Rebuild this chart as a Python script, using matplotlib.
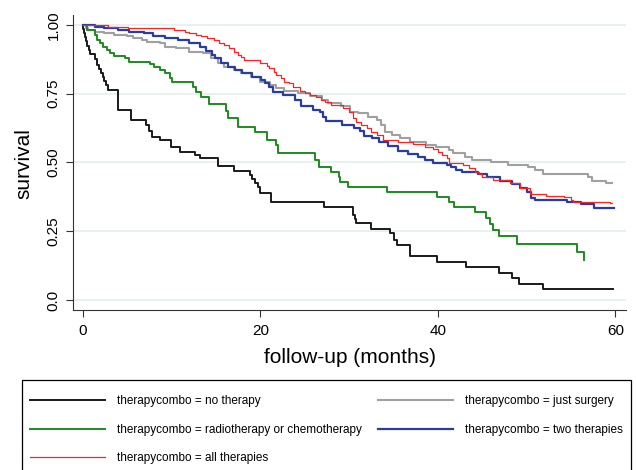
import matplotlib
matplotlib.use("Agg")
import matplotlib.pyplot as plt

plt.rcParams['font.family'] = ['Liberation Sans', 'DejaVu Sans']

# Kaplan-Meier Stufen (Monate, Überleben)
t_none = [0, 0.05, 0.15, 0.25, 0.35, 0.5, 0.65, 0.8, 1.4, 1.6, 1.8, 2.0, 2.2, 2.4, 2.6, 2.85,
          3.9, 5.45, 7.15, 7.4, 7.8, 8.65, 9.96, 10.9, 12.6, 13.2, 15.2, 17.0, 18.8, 19.1, 19.4,
          19.7, 20.0, 21.2, 27.2, 30.4, 30.6, 30.8, 32.5, 34.6, 35.1, 35.4, 36.9, 39.9, 43.2,
          46.9, 48.4, 49.1, 51.9, 59.75]
s_none = [1.0, 0.985, 0.97, 0.955, 0.94, 0.925, 0.91, 0.893, 0.875, 0.855, 0.84, 0.825, 0.81,
          0.795, 0.78, 0.764, 0.69, 0.655, 0.635, 0.615, 0.594, 0.582, 0.557, 0.539, 0.527, 0.515,
          0.488, 0.47, 0.455, 0.44, 0.425, 0.41, 0.388, 0.358, 0.339, 0.31, 0.295, 0.281, 0.26,
          0.242, 0.22, 0.2, 0.16, 0.139, 0.119, 0.099, 0.079, 0.058, 0.039, 0.039]

t_surg = [0, 0.3, 0.55, 1.3, 2.4, 3.5, 5.0, 5.6, 6.6, 7.2, 8.7, 9.2, 10.5, 12.0, 13.5, 14.4,
          15.2, 15.9, 17.0, 17.8, 18.9, 20.0, 21.05, 21.8, 22.7, 24.2, 25.6, 26.9, 27.6, 29.1,
          30.1, 31.0, 32.1, 33.1, 33.6, 34.0, 34.8, 35.7, 36.8, 38.7, 39.8, 41.3, 41.7, 43.0,
          43.8, 46.0, 47.9, 50.2, 50.9, 51.9, 56.9, 57.4, 59.0, 59.6]
s_surg = [1.0, 0.99, 0.982, 0.976, 0.97, 0.964, 0.96, 0.954, 0.945, 0.939, 0.933, 0.921, 0.915,
          0.903, 0.897, 0.879, 0.861, 0.848, 0.836, 0.824, 0.812, 0.794, 0.782, 0.770, 0.761,
          0.752, 0.742, 0.727, 0.715, 0.705, 0.685, 0.679, 0.664, 0.655, 0.636, 0.612, 0.600,
          0.590, 0.576, 0.564, 0.555, 0.545, 0.533, 0.519, 0.509, 0.5, 0.491, 0.482, 0.473,
          0.458, 0.446, 0.434, 0.424, 0.424]

t_rc = [0, 0.4, 1.3, 1.6, 1.9, 2.3, 2.7, 3.05, 3.5, 4.7, 5.2, 7.5, 8.0, 8.7, 9.2, 9.8, 10.0,
        12.4, 12.7, 13.3, 14.2, 16.1, 16.3, 17.5, 19.4, 20.7, 21.8, 22.0, 26.2, 26.6, 28.0, 28.8,
        29.0, 29.9, 34.3, 39.9, 41.2, 41.8, 44.2, 45.4, 45.9, 46.2, 46.9, 48.9, 55.7, 56.5]
s_rc = [1.0, 0.982, 0.964, 0.945, 0.933, 0.921, 0.909, 0.897, 0.888, 0.879, 0.867, 0.857, 0.848,
        0.836, 0.824, 0.806, 0.794, 0.774, 0.758, 0.739, 0.713, 0.687, 0.661, 0.63, 0.612, 0.582,
        0.564, 0.533, 0.509, 0.482, 0.465, 0.449, 0.43, 0.412, 0.394, 0.376, 0.358, 0.339, 0.319,
        0.297, 0.278, 0.255, 0.232, 0.204, 0.176, 0.145]

t_two = [0, 1.3, 2.4, 3.9, 5.2, 6.9, 7.9, 9.2, 10.7, 12.0, 13.2, 13.9, 14.5, 14.9, 15.6, 16.3,
         17.1, 17.9, 19.0, 20.1, 20.5, 21.0, 21.4, 22.5, 23.9, 24.6, 25.9, 26.7, 27.1, 27.4, 29.2,
         30.5, 31.2, 31.7, 32.6, 33.4, 34.4, 35.5, 36.6, 37.8, 38.5, 39.4, 41.0, 41.5, 42.0, 42.7,
         44.5, 45.5, 47.0, 48.3, 49.2, 50.0, 50.5, 50.9, 54.6, 56.1, 57.6, 59.9]
s_two = [1.0, 0.994, 0.988, 0.982, 0.976, 0.970, 0.961, 0.951, 0.945, 0.933, 0.921, 0.905, 0.89,
         0.879, 0.861, 0.848, 0.836, 0.826, 0.812, 0.800, 0.788, 0.774, 0.758, 0.745, 0.727, 0.705,
         0.691, 0.685, 0.667, 0.652, 0.636, 0.624, 0.614, 0.598, 0.588, 0.576, 0.56, 0.543, 0.531,
         0.521, 0.509, 0.497, 0.491, 0.485, 0.473, 0.467, 0.458, 0.446, 0.434, 0.422, 0.406,
         0.394, 0.37, 0.364, 0.355, 0.349, 0.333, 0.333]

t_all = [0, 2.8, 5.1, 10.2, 11.5, 12.0, 12.7, 13.3, 14.0, 14.8, 15.3, 15.9, 16.4, 17.0, 17.5,
         17.8, 18.2, 20.0, 20.7, 21.0, 21.5, 21.8, 22.3, 22.7, 23.2, 23.7, 24.4, 25.0, 25.6, 26.3,
         26.8, 27.3, 27.9, 29.3, 30.0, 30.4, 30.8, 31.3, 32.0, 32.5, 33.1, 33.8, 35.5, 37.2, 38.6,
         39.5, 40.0, 40.5, 41.0, 41.3, 42.8, 43.5, 44.2, 44.6, 45.0, 46.2, 48.1, 49.2, 50.4, 52.2,
         54.2, 55.0, 55.2, 59.4, 59.6]
s_all = [1.0, 0.994, 0.988, 0.982, 0.976, 0.970, 0.964, 0.958, 0.951, 0.945, 0.933, 0.927, 0.915,
         0.903, 0.891, 0.885, 0.873, 0.861, 0.852, 0.842, 0.830, 0.818, 0.806, 0.794, 0.788, 0.776,
         0.760, 0.752, 0.745, 0.739, 0.727, 0.721, 0.709, 0.697, 0.685, 0.661, 0.648, 0.636, 0.624,
         0.612, 0.600, 0.582, 0.576, 0.567, 0.558, 0.548, 0.539, 0.527, 0.515, 0.497, 0.491, 0.479,
         0.467, 0.458, 0.449, 0.436, 0.424, 0.406, 0.385, 0.379, 0.373, 0.364, 0.358, 0.352, 0.352]

labels = ["therapycombo = no therapy",
          "therapycombo = radiotherapy or chemotherapy",
          "therapycombo = all therapies",
          "therapycombo = just surgery",
          "therapycombo = two therapies"]

y_ticks = [0.0, 0.25, 0.5, 0.75, 1.0]
y_ticklabels = ["0.0", "0.25", "0.50", "0.75", "1.00"]
x_ticks = [0, 20, 40, 60]

fig = plt.figure(figsize=(6.37, 4.70), dpi=100)
ax = fig.add_axes([73 / 637, 1 - 310 / 470, 553 / 637, 295 / 470])

ax.grid(axis='y', color='#e8f0f2', linewidth=1.4)
ax.set_axisbelow(True)

l_none, = ax.step(t_none, s_none, where='post', color='#1a1a1a', lw=1.4)
l_surg, = ax.step(t_surg, s_surg, where='post', color='#a0a0a0', lw=1.5)
l_rc, = ax.step(t_rc, s_rc, where='post', color='#1f8a1f', lw=1.4)
l_two, = ax.step(t_two, s_two, where='post', color='#2a3c9c', lw=1.6)
l_all, = ax.step(t_all, s_all, where='post', color='#f02828', lw=0.9)

ax.set_xlim(-1.13, 61.2)
ax.set_ylim(-0.036, 1.036)
ax.set_xticks(x_ticks)
ax.set_yticks(y_ticks)
ax.set_yticklabels(y_ticklabels, rotation=90, va='center')
ax.tick_params(axis='both', labelsize=11, length=5, width=0.8, color='#333333')
ax.tick_params(axis='y', pad=4)
ax.tick_params(axis='x', pad=5)

for side in ['top', 'right']:
    ax.spines[side].set_visible(False)
for side in ['left', 'bottom']:
    ax.spines[side].set_color('#333333')
    ax.spines[side].set_linewidth(0.8)

ax.set_ylabel("survival", fontsize=15)
ax.yaxis.set_label_coords(-0.072, 0.495)
ax.set_xlabel("follow-up (months)", fontsize=15)
ax.xaxis.set_label_coords(0.5, -0.128)

# Rahmen der Legende extra, damit Abstand oben stimmt
frame = plt.Rectangle((22 / 637, -2 / 470), 609 / 637, 92 / 470, transform=fig.transFigure,
                      fill=False, edgecolor='black', linewidth=0.9)
fig.add_artist(frame)

leg = fig.legend([l_none, l_rc, l_all, l_surg, l_two], labels,
                 loc='upper left', bbox_to_anchor=(22 / 637, 1 - 387 / 470, 609 / 637, 0),
                 mode='expand', ncol=2, fontsize=8.5, handlelength=6.35, handletextpad=1.0,
                 borderpad=0.7, labelspacing=1.4, frameon=False, borderaxespad=0)

fig.savefig("out.png", dpi=100)
